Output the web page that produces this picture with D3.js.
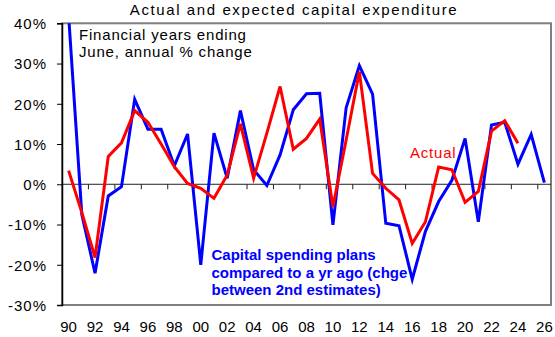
<!DOCTYPE html>
<html>
<head>
<meta charset="utf-8">
<script src="https://cdn.jsdelivr.net/npm/d3@7"></script>
<style>
  html, body { margin: 0; padding: 0; background: #fff; }
  svg { display: block; font-family: "Liberation Sans", Arial, sans-serif; }
</style>
</head>
<body>
<svg id="chart" width="555" height="337"></svg>
<script>
// ---- Data ----
const years = d3.range(1990, 2027);
const planValues = [42, -7.5, -22.1, -2.9, -0.6, 21.1, 13.7, 13.7, 4.6, 12.5,
  -20, 12.7, 1.5, 18.3, 3.6, -0.3, 7.3, 18.5, 22.5, 22.6,
  -10.1, 19, 29.5, 22.4, -9.7, -10.3, -23.6, -11.7, -4.3, 1,
  11.4, -9.3, 14.7, 15.4, 5, 12.4, 0.4];
const actualYears = d3.range(1990, 2025);
const actualValues = [3.4, -7, -18.2, 6.9, 10.3, 18.3, 15.4, 10, 4.4, 0.2,
  -1, -3.5, 2.3, 15, 1.5, 12.7, 24.3, 8.7, 11.4, 16.2,
  -5.6, 11, 28, 2.7, -1, -3.9, -14.7, -9.3, 4.3, 3.6,
  -4.5, -1.8, 13.2, 15.8, 10.2];
const yTicks = [-30, -20, -10, 0, 10, 20, 30, 40];
const xLabelYears = years.filter((y, i) => i % 2 === 0);

const title = "Actual and expected capital expenditure";
const noteLines = ["Financial years ending", "June, annual % change"];
const actualLabel = "Actual";
const planLines = ["Capital spending plans", "compared to a yr ago (chge", "between 2nd estimates)"];

// ---- Layout ----
const L = 62, R = 551, T = 23.3, B = 305;
const svg = d3.select("#chart");

const x = d3.scaleBand().domain(years).range([L, R]).padding(0);
const xc = yr => x(yr) + x.bandwidth() / 2;
const y = d3.scaleLinear().domain([-30, 40]).range([B, T]);

// clip
svg.append("defs").append("clipPath").attr("id", "plotclip")
  .append("rect").attr("x", L).attr("y", T).attr("width", R - L).attr("height", B - T);

// frame
svg.append("rect").attr("x", L).attr("y", T).attr("width", R - L).attr("height", B - T)
  .attr("fill", "none").attr("stroke", "#7f7f7f").attr("stroke-width", 2);

// zero line
svg.append("line").attr("x1", L).attr("x2", R).attr("y1", y(0)).attr("y2", y(0))
  .attr("stroke", "#222").attr("stroke-width", 1);

// x ticks at category boundaries (every 2 categories) below zero line
const boundaryIdx = d3.range(2, 37, 2);
svg.append("g").selectAll("line").data(boundaryIdx).join("line")
  .attr("x1", i => x(years[i])).attr("x2", i => x(years[i]))
  .attr("y1", y(0)).attr("y2", y(0) + 5)
  .attr("stroke", "#222").attr("stroke-width", 1);

// y axis
const yAxis = d3.axisLeft(y).tickValues(yTicks).tickSize(5).tickFormat(d => d + "%");
const gy = svg.append("g").attr("transform", `translate(${L},0)`).call(yAxis);
gy.select(".domain").attr("stroke", "#000").attr("stroke-width", 1.5);
gy.selectAll(".tick line").attr("stroke", "#000");
gy.selectAll(".tick text").attr("x", -15).attr("dy", "0.36em")
  .attr("font-size", 15).attr("letter-spacing", "1px").attr("fill", "#000")
  .attr("font-family", "Liberation Sans, Arial, sans-serif");

// x labels
svg.append("g").selectAll("text").data(xLabelYears).join("text")
  .attr("x", d => xc(d)).attr("y", 332)
  .attr("text-anchor", "middle").attr("font-size", 15).attr("fill", "#000")
  .text(d => String(d % 100).padStart(2, "0"));

// lines
const line = d3.line().x(d => xc(d[0])).y(d => y(d[1]));
const plotG = svg.append("g").attr("clip-path", "url(#plotclip)");
plotG.append("path").datum(years.map((yr, i) => [yr, planValues[i]]))
  .attr("d", line).attr("fill", "none").attr("stroke", "#0000ff")
  .attr("stroke-width", 3).attr("stroke-linejoin", "miter");
plotG.append("path").datum(actualYears.map((yr, i) => [yr, actualValues[i]]))
  .attr("d", line).attr("fill", "none").attr("stroke", "#ff0000")
  .attr("stroke-width", 3).attr("stroke-linejoin", "miter");

// title
svg.append("text").attr("x", 294).attr("y", 15).attr("text-anchor", "middle")
  .attr("font-size", 15).attr("letter-spacing", "1.6px").attr("fill", "#000")
  .text(title);

// note
svg.append("g").selectAll("text").data(noteLines).join("text")
  .attr("x", 79).attr("y", (d, i) => 39.5 + i * 17.5)
  .attr("font-size", 15).attr("letter-spacing", "0.8px").attr("fill", "#000")
  .text(d => d);

// actual label
svg.append("text").attr("x", 410).attr("y", 157.5)
  .attr("font-size", 15).attr("letter-spacing", "0.8px").attr("fill", "#ff0000")
  .text(actualLabel);

// plans label
svg.append("g").selectAll("text").data(planLines).join("text")
  .attr("x", 211.5).attr("y", (d, i) => 260 + i * 17.5)
  .attr("font-size", 15).attr("font-weight", "bold").attr("fill", "#0000ff")
  .text(d => d);
</script>
</body>
</html>
